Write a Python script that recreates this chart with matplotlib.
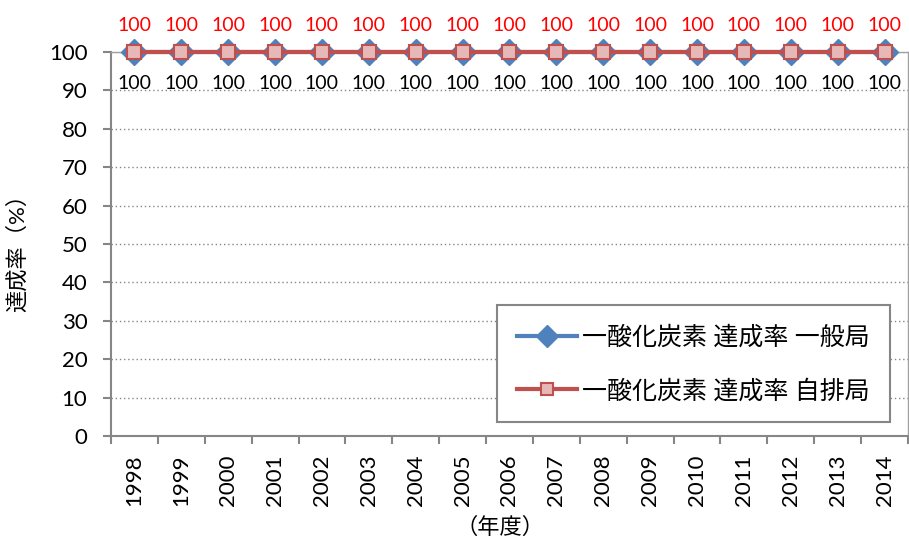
import matplotlib.pyplot as plt

plt.rcParams['font.family'] = ['Lato', 'Noto Sans CJK JP', 'DejaVu Sans']

years = [str(y) for y in range(1998, 2015)]
general = [100] * 17   # 一般局
roadside = [100] * 17  # 自排局

fig = plt.figure(figsize=(9.09, 5.45), dpi=100)
ax = fig.add_axes([0.1221, 0.2, 0.8768, 0.7046])

x = list(range(len(years)))
ax.plot(x, general, color='#4f81bd', lw=3, marker='D', ms=13.5,
        mfc='#4f81bd', mec='#4f81bd', label='一酸化炭素 達成率 一般局',
        zorder=3, clip_on=False)
ax.plot(x, roadside, color='#c0504d', lw=3, marker='s', ms=10,
        mfc='#e6b9b8', mec='#c0504d', mew=1.5, label='一酸化炭素 達成率 自排局',
        zorder=4, clip_on=False)

for i, v in enumerate(general):
    ax.text(i, v - 8.3, str(v), ha='center', va='center', fontsize=14, color='black')
for i, v in enumerate(roadside):
    ax.text(i, v + 7, str(v), ha='center', va='center', fontsize=14, color='red')

ax.set_xlim(-0.5, len(years) - 0.5)
ax.set_ylim(0, 100)
ax.set_yticks(range(0, 101, 10))
ax.set_xticks(x)
ax.set_xticklabels(years, rotation=90, fontsize=16)
ax.tick_params(axis='y', labelsize=16, length=6, width=1.5, color='#868686', pad=11)
ax.tick_params(axis='x', length=0, pad=13)
ax.set_xticks([i - 0.5 for i in range(len(years) + 1)], minor=True)
ax.tick_params(axis='x', which='minor', length=6, width=1.5, color='#868686')

ax.yaxis.grid(True, linestyle=(0, (1, 2)), color='#868686', lw=1)
ax.set_axisbelow(True)
for s in ax.spines.values():
    s.set_color('#868686')
    s.set_linewidth(1.5)
ax.spines['top'].set_linewidth(1)
ax.spines['right'].set_linewidth(1)
ax.spines['top'].set_color('#a0a0a0')
ax.spines['right'].set_color('#a0a0a0')

fig.text(17 / 909, 1 - 247 / 545, '達成率（%）', rotation=90, ha='center', va='center',
         fontsize=16)
fig.text(500 / 909, 1 - 527 / 545, '（年度）', ha='center', va='center', fontsize=16)

leg = ax.legend(loc='lower right', bbox_to_anchor=(0.977, 0.036), fontsize=18,
                frameon=True, fancybox=False, edgecolor='#868686', framealpha=1,
                handlelength=2.4, labelspacing=1.2, borderpad=0.8, handletextpad=0.2,
                borderaxespad=0, markerscale=0.8)
leg.get_frame().set_linewidth(1.5)

fig.savefig('out.png', dpi=100)
